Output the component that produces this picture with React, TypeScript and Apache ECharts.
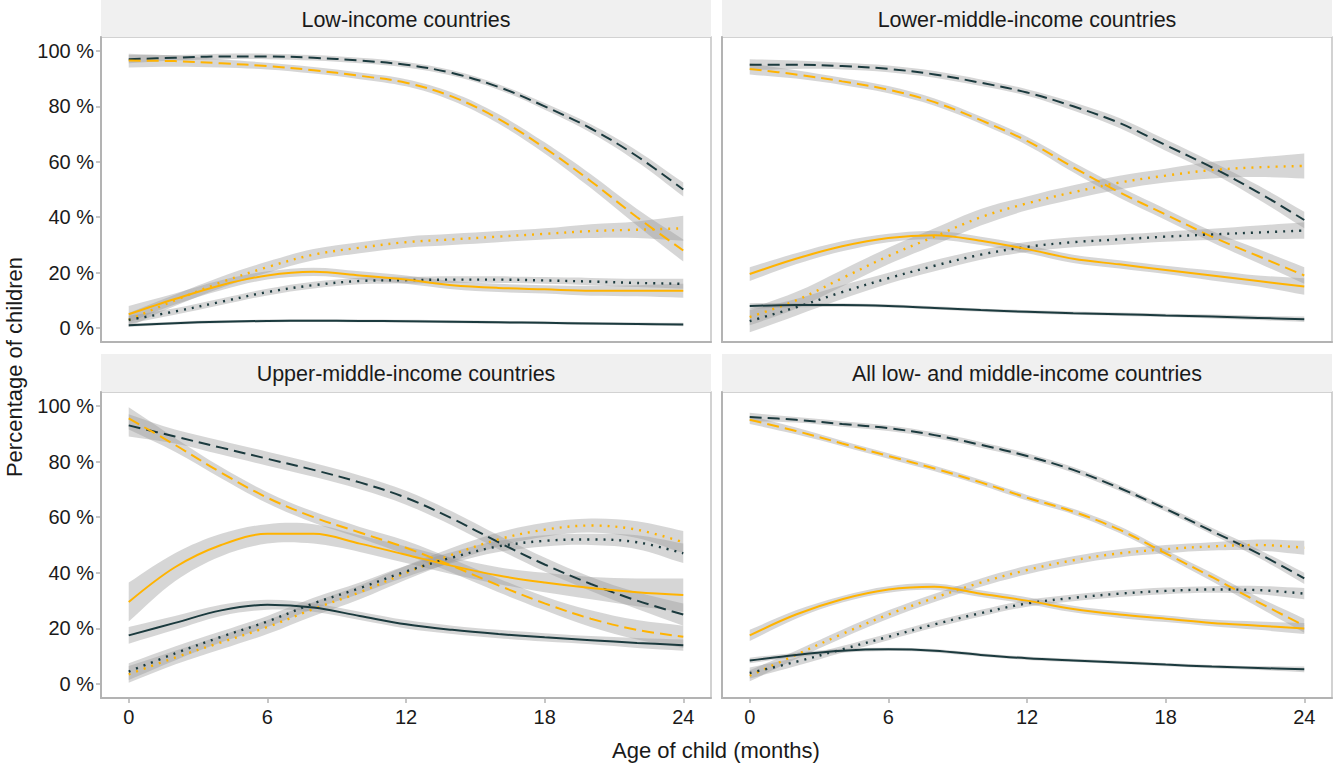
import React, { useEffect, useRef } from 'react';
import * as echarts from 'echarts';

const months = [0, 2, 4, 6, 8, 10, 12, 14, 16, 18, 20, 22, 24];
const xTicks = [0, 6, 12, 18, 24];
const yTicks = [0, 20, 40, 60, 80, 100];
const panelTitles = [
  'Low-income countries',
  'Lower-middle-income countries',
  'Upper-middle-income countries',
  'All low- and middle-income countries',
];

// Low-income countries
const liDarkDash = [97, 97.5, 98, 98, 97.5, 96.5, 95, 92, 87, 80, 72, 62, 50];
const liDarkDashCi = [1.5, 1, 1, 1, 1, 1, 1, 1, 1, 1.2, 1.5, 2, 2.5];
const liOrangeDash = [96.5, 96.3, 95.5, 94.5, 93, 91, 88.5, 83.5, 75.5, 65, 53, 40, 28];
const liOrangeDashCi = [2.5, 2, 1.5, 1.2, 1.2, 1.2, 1.3, 1.5, 1.7, 2, 2.5, 3, 4];
const liOrangeDot = [3, 10, 16.5, 22, 26.5, 29, 31, 32, 33, 34, 35, 35.5, 36];
const liOrangeDotCi = [2.5, 2, 2, 2, 2, 2, 2, 2, 2, 2, 2.5, 3, 4.5];
const liOrangeSolid = [5, 10.5, 15.5, 19, 20.3, 19, 17.5, 15.5, 14.5, 14, 13.5, 13.5, 13.5];
const liOrangeSolidCi = [3, 2, 1.8, 1.5, 1.5, 1.5, 1.5, 1.5, 1.5, 1.5, 1.8, 2, 2.5];
const liDarkDot = [3, 6, 9.5, 13, 15.5, 17, 17.3, 17.5, 17.5, 17.2, 16.8, 16.3, 16];
const liDarkDotCi = [1.5, 1.2, 1.2, 1.2, 1.2, 1.2, 1.2, 1.2, 1.2, 1.2, 1.3, 1.5, 1.8];
const liDarkSolid = [1, 1.8, 2.3, 2.6, 2.7, 2.6, 2.5, 2.3, 2.1, 1.9, 1.7, 1.5, 1.3];
const liDarkSolidCi = [0.6, 0.5, 0.5, 0.5, 0.5, 0.5, 0.5, 0.5, 0.5, 0.5, 0.5, 0.5, 0.6];

// Lower-middle-income countries
const lmiDarkDash = [95, 95, 94.5, 93.5, 91.5, 88.5, 85, 80, 74, 66, 58, 49, 39];
const lmiDarkDashCi = [2, 1.5, 1.2, 1.2, 1.2, 1.2, 1.2, 1.5, 1.8, 2, 2, 2.5, 3];
const lmiOrangeDash = [93.5, 91.5, 89, 86, 81.5, 75, 67.5, 58, 49, 41, 33, 26, 19];
const lmiOrangeDashCi = [2, 1.5, 1.3, 1.3, 1.3, 1.3, 1.5, 1.8, 2, 2, 2, 2.5, 3];
const lmiOrangeDot = [4, 10, 18, 26, 33, 40, 45, 49, 52.5, 55, 57, 58, 58.5];
const lmiOrangeDotCi = [3, 3, 3, 3, 3, 3, 2.5, 2.5, 2.5, 2.5, 3, 3.5, 4.5];
const lmiDarkDot = [2.5, 7.5, 13, 18, 22.5, 26.5, 29.3, 31, 32, 33, 33.8, 34.5, 35.2];
const lmiDarkDotCi = [4, 3, 2.5, 2, 2, 1.8, 1.8, 1.8, 1.8, 1.8, 2, 2.5, 3];
const lmiOrangeSolid = [19.5, 25, 29.5, 32.5, 33.5, 31.5, 28.5, 25, 23, 21, 19, 17, 15];
const lmiOrangeSolidCi = [2.5, 2, 1.8, 1.5, 1.5, 1.5, 1.5, 1.5, 1.5, 1.5, 1.8, 2, 3];
const lmiDarkSolid = [8, 8.3, 8.3, 8, 7.3, 6.5, 5.9, 5.4, 5, 4.6, 4.2, 3.7, 3.2];
const lmiDarkSolidCi = [1, 0.8, 0.7, 0.6, 0.6, 0.6, 0.6, 0.6, 0.6, 0.6, 0.7, 0.8, 1];

// Upper-middle-income countries
const umiDarkDash = [93, 89, 85, 81, 77, 72.5, 67, 59.5, 51, 43, 36, 30, 25];
const umiDarkDashCi = [4, 2.5, 2.5, 2.5, 2.5, 2.5, 2.5, 2.5, 2.5, 2.5, 2.5, 3, 4];
const umiOrangeDash = [95.5, 86, 76, 67, 60, 54.5, 49, 42.5, 35.5, 29, 23.5, 19.5, 17];
const umiOrangeDashCi = [4, 2.5, 2, 2, 2, 2, 2.5, 2.5, 2.5, 2.5, 3, 3.5, 4];
const umiOrangeSolid = [29.5, 42, 50, 54, 54, 50.5, 46.5, 42.5, 39, 36.5, 34.5, 33, 32];
const umiOrangeSolidCi = [7, 5, 4, 3.5, 3.5, 3, 3, 3, 3, 3.5, 4, 5, 6];
const umiDarkSolid = [17.5, 22, 26.5, 28.5, 27.5, 24.5, 21.5, 19.5, 18, 16.8, 15.8, 14.8, 14];
const umiDarkSolidCi = [3, 2.5, 2, 1.8, 1.5, 1.5, 1.5, 1.5, 1.5, 1.5, 1.5, 1.8, 2];
const umiOrangeDot = [3.5, 9.5, 15, 20.5, 27, 33, 40, 46.5, 52, 55.5, 57, 55.5, 51];
const umiOrangeDotCi = [3, 2.5, 2.5, 2.5, 2.5, 2.5, 2.5, 2.5, 2.5, 2.5, 2.5, 3, 4];
const umiDarkDot = [4.5, 11, 17, 22.5, 29, 34.5, 40.5, 45.5, 49.5, 51.5, 52, 51, 47];
const umiDarkDotCi = [3, 2.5, 2, 2, 2, 2, 2, 2, 2, 2, 2, 2.5, 3.5];

// All low- and middle-income countries
const allDarkDash = [96, 95, 93.5, 92, 89.5, 86, 82, 77, 70.5, 63, 55, 47, 38];
const allDarkDashCi = [1.5, 1, 1, 1, 1, 1, 1, 1, 1, 1, 1.2, 1.5, 2];
const allOrangeDash = [95, 91, 86.5, 82, 77.5, 72.5, 67, 62, 55.5, 47, 38.5, 29.5, 21];
const allOrangeDashCi = [1.5, 1.2, 1, 1, 1, 1, 1, 1, 1.2, 1.2, 1.5, 1.8, 2.5];
const allOrangeDot = [3, 10.5, 18, 25, 31, 36.5, 41, 44.5, 47, 48.5, 49.5, 50, 49];
const allOrangeDotCi = [2, 1.5, 1.5, 1.5, 1.5, 1.5, 1.5, 1.5, 1.5, 1.5, 1.5, 2, 2.5];
const allDarkDot = [4, 8, 12.5, 17, 21.5, 25.5, 29, 31, 32.5, 33.5, 34, 33.8, 32.5];
const allDarkDotCi = [2, 1.5, 1.2, 1.2, 1.2, 1.2, 1.2, 1.2, 1.2, 1.2, 1.2, 1.5, 2];
const allOrangeSolid = [17.5, 25, 30.5, 34, 35, 32.5, 30, 27, 25, 23.5, 22, 21, 20];
const allOrangeSolidCi = [2, 1.5, 1.2, 1.2, 1.2, 1.2, 1.2, 1.2, 1.2, 1.2, 1.2, 1.5, 2];
const allDarkSolid = [8.5, 10.5, 12, 12.5, 12, 10.5, 9.3, 8.5, 7.8, 7, 6.3, 5.8, 5.3];
const allDarkSolidCi = [1, 0.8, 0.7, 0.6, 0.6, 0.6, 0.6, 0.6, 0.6, 0.6, 0.6, 0.7, 1];

const DARK = '#1b3a3e';
const ORANGE = '#ffb300';
const BAND = 'rgba(153,153,153,0.4)';
const DASH = [12, 6];
const DOT = [2, 6];
const SMOOTH = 0.35;

type Ln = { v: number[]; ci: number[]; color: string; kind: string };
const mk = (v: number[], ci: number[], color: string, kind: string): Ln => ({ v, ci, color, kind });

const panelLines: Ln[][] = [
  [
    mk(liDarkDash, liDarkDashCi, DARK, 'dash'),
    mk(liOrangeDash, liOrangeDashCi, ORANGE, 'dash'),
    mk(liOrangeDot, liOrangeDotCi, ORANGE, 'dot'),
    mk(liDarkDot, liDarkDotCi, DARK, 'dot'),
    mk(liOrangeSolid, liOrangeSolidCi, ORANGE, 'solid'),
    mk(liDarkSolid, liDarkSolidCi, DARK, 'solid'),
  ],
  [
    mk(lmiDarkDash, lmiDarkDashCi, DARK, 'dash'),
    mk(lmiOrangeDash, lmiOrangeDashCi, ORANGE, 'dash'),
    mk(lmiOrangeDot, lmiOrangeDotCi, ORANGE, 'dot'),
    mk(lmiDarkDot, lmiDarkDotCi, DARK, 'dot'),
    mk(lmiOrangeSolid, lmiOrangeSolidCi, ORANGE, 'solid'),
    mk(lmiDarkSolid, lmiDarkSolidCi, DARK, 'solid'),
  ],
  [
    mk(umiDarkDash, umiDarkDashCi, DARK, 'dash'),
    mk(umiOrangeDash, umiOrangeDashCi, ORANGE, 'dash'),
    mk(umiOrangeDot, umiOrangeDotCi, ORANGE, 'dot'),
    mk(umiDarkDot, umiDarkDotCi, DARK, 'dot'),
    mk(umiOrangeSolid, umiOrangeSolidCi, ORANGE, 'solid'),
    mk(umiDarkSolid, umiDarkSolidCi, DARK, 'solid'),
  ],
  [
    mk(allDarkDash, allDarkDashCi, DARK, 'dash'),
    mk(allOrangeDash, allOrangeDashCi, ORANGE, 'dash'),
    mk(allOrangeDot, allOrangeDotCi, ORANGE, 'dot'),
    mk(allDarkDot, allDarkDotCi, DARK, 'dot'),
    mk(allOrangeSolid, allOrangeSolidCi, ORANGE, 'solid'),
    mk(allDarkSolid, allDarkSolidCi, DARK, 'solid'),
  ],
];

const FONT = 'Liberation Sans, Arial, sans-serif';
const TXT = '#1a1a1a';
const AXISC = '#b3b3b3';

const grids = [
  { left: 101, top: 37, width: 610, height: 305 },
  { left: 722, top: 37, width: 610, height: 305 },
  { left: 101, top: 392, width: 610, height: 306 },
  { left: 722, top: 392, width: 610, height: 306 },
];
const strips = [
  { x: 101, y: 0, w: 610, h: 37 },
  { x: 722, y: 0, w: 610, h: 37 },
  { x: 101, y: 354, w: 610, h: 38 },
  { x: 722, y: 354, w: 610, h: 38 },
];

// smooth curve helper for the confidence bands (same idea as the line smoothing)
function smoothTo(ctx: any, pts: number[][], s: number) {
  const n = pts.length;
  const outs: number[][] = [];
  const ins: number[][] = [];
  for (let i = 0; i < n; i++) {
    const p = pts[i];
    const prev = pts[Math.max(i - 1, 0)];
    const next = pts[Math.min(i + 1, n - 1)];
    const vx = next[0] - prev[0];
    const vy = next[1] - prev[1];
    const d0 = i > 0 ? Math.hypot(p[0] - pts[i - 1][0], p[1] - pts[i - 1][1]) : 0;
    const d1 = i < n - 1 ? Math.hypot(pts[i + 1][0] - p[0], pts[i + 1][1] - p[1]) : 0;
    const sum = d0 + d1 || 1;
    outs.push([p[0] + vx * s * (d1 / sum), p[1] + vy * s * (d1 / sum)]);
    ins.push([p[0] - vx * s * (d0 / sum), p[1] - vy * s * (d0 / sum)]);
  }
  for (let i = 0; i < n - 1; i++) {
    const a = outs[i];
    const b = ins[i + 1];
    const q = pts[i + 1];
    ctx.bezierCurveTo(a[0], a[1], b[0], b[1], q[0], q[1]);
  }
}

let registered = false;
function ensureShape() {
  if (registered) return;
  registered = true;
  const Band = (echarts.graphic as any).extendShape({
    type: 'ciBand',
    shape: { up: [], lo: [] },
    buildPath(ctx: any, shape: any) {
      const up: number[][] = shape.up;
      const lo: number[][] = shape.lo;
      if (!up || !up.length) return;
      ctx.moveTo(up[0][0], up[0][1]);
      smoothTo(ctx, up, SMOOTH);
      const loR = lo.slice().reverse();
      ctx.lineTo(loR[0][0], loR[0][1]);
      smoothTo(ctx, loR, SMOOTH);
      ctx.closePath();
    },
  });
  (echarts.graphic as any).registerShape('ciBand', Band);
}

export default function App() {
  const ref = useRef<HTMLDivElement>(null);
  useEffect(() => {
    if (!ref.current) return;
    ensureShape();
    const chart = echarts.init(ref.current, null, { renderer: 'svg' });
    const series: any[] = [];
    panelLines.forEach((lines, p) => {
      series.push({
        type: 'custom',
        xAxisIndex: p,
        yAxisIndex: p,
        z: 1,
        silent: true,
        data: lines.map((_, i) => [i]),
        encode: { x: 0, y: 0 },
        renderItem: (params: any, api: any) => {
          const ln = lines[params.dataIndex];
          const up = months.map((m, i) => api.coord([m, ln.v[i] + ln.ci[i]]));
          const lo = months.map((m, i) => api.coord([m, ln.v[i] - ln.ci[i]]));
          return {
            type: 'ciBand',
            shape: { up, lo },
            style: { fill: BAND },
          };
        },
      });
      lines.forEach((ln) => {
        series.push({
          type: 'line',
          xAxisIndex: p,
          yAxisIndex: p,
          z: 3,
          silent: true,
          symbol: 'none',
          smooth: SMOOTH,
          data: months.map((m, i) => [m, ln.v[i]]),
          lineStyle: {
            color: ln.color,
            width: ln.kind === 'dot' ? 2.4 : 2,
            type: ln.kind === 'dash' ? DASH : ln.kind === 'dot' ? DOT : 'solid',
            cap: 'butt',
          },
        });
      });
    });

    const graphic: any[] = [];
    strips.forEach((s, i) => {
      graphic.push({
        type: 'rect',
        shape: { x: s.x, y: s.y, width: s.w, height: s.h },
        style: { fill: '#f0f0f0' },
        z: 0,
      });
      graphic.push({
        type: 'text',
        x: s.x + s.w / 2,
        y: s.y + s.h / 2 + 1,
        style: {
          text: panelTitles[i],
          fill: TXT,
          font: `21.5px ${FONT}`,
          align: 'center',
          verticalAlign: 'middle',
        },
        z: 1,
      });
    });
    graphic.push({
      type: 'text',
      x: 716,
      y: 750,
      style: {
        text: 'Age of child (months)',
        fill: TXT,
        font: `22px ${FONT}`,
        align: 'center',
        verticalAlign: 'middle',
      },
    });
    graphic.push({
      type: 'text',
      x: 14,
      y: 367,
      rotation: Math.PI / 2,
      style: {
        text: 'Percentage of children',
        fill: TXT,
        font: `22px ${FONT}`,
        align: 'center',
        verticalAlign: 'middle',
      },
    });

    chart.setOption({
      animation: false,
      backgroundColor: '#ffffff',
      grid: grids.map((g) => ({
        ...g,
        show: true,
        borderColor: '#c4c4c4',
        borderWidth: 1.5,
        backgroundColor: '#ffffff',
        containLabel: false,
      })),
      xAxis: grids.map((_, i) => ({
        type: 'value',
        gridIndex: i,
        min: -1.2,
        max: 25.2,
        splitLine: { show: false },
        axisLine: { show: true, onZero: false, lineStyle: { color: AXISC, width: 2 } },
        axisTick: {
          show: i >= 2,
          length: 5,
          lineStyle: { color: AXISC, width: 1.5 },
          customValues: xTicks,
        },
        axisLabel: {
          show: i >= 2,
          customValues: xTicks,
          color: TXT,
          fontSize: 20,
          fontFamily: FONT,
          margin: 9,
        },
      })),
      yAxis: grids.map((_, i) => ({
        type: 'value',
        gridIndex: i,
        min: -5,
        max: 105,
        splitLine: { show: false },
        axisLine: { show: true, onZero: false, lineStyle: { color: AXISC, width: 2 } },
        axisTick: {
          show: i % 2 === 0,
          length: 5,
          lineStyle: { color: AXISC, width: 1.5 },
          customValues: yTicks,
        },
        axisLabel: {
          show: i % 2 === 0,
          customValues: yTicks,
          formatter: (v: number) => `${v} %`,
          color: TXT,
          fontSize: 20,
          fontFamily: FONT,
          margin: 7,
        },
      })),
      graphic,
      series,
    });
    return () => chart.dispose();
  }, []);
  return (
    <div
      ref={ref}
      style={{ position: 'fixed', left: 0, top: 0, width: 1334, height: 765, background: '#fff' }}
    />
  );
}
